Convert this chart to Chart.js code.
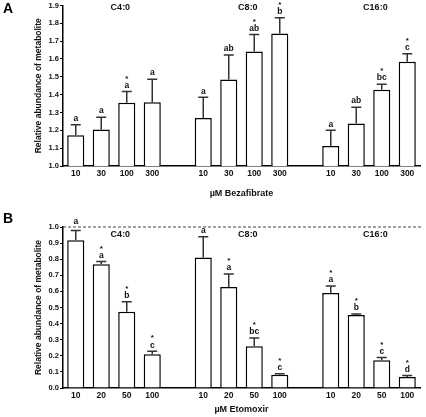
<!DOCTYPE html>
<html>
<head>
<meta charset="utf-8">
<script src="https://cdn.jsdelivr.net/npm/chart.js@4.4.1/dist/chart.umd.min.js"></script>
<style>
  html, body { margin: 0; padding: 0; background: #fff; }
  .panel { position: absolute; left: 0; width: 426px; }
  #wrapA { top: 0; height: 207px; }
  #wrapB { top: 207px; height: 210px; }
</style>
</head>
<body>
<div class="panel" id="wrapA"><canvas id="chartA" width="426" height="207"></canvas></div>
<div class="panel" id="wrapB"><canvas id="chartB" width="426" height="210"></canvas></div>
<script>
// groups and doses (blank slot between groups)
const groups = ['C4:0', 'C8:0', 'C16:0'];
const dosesA = ['10', '30', '100', '300', '', '10', '30', '100', '300', '', '10', '30', '100', '300'];
const dosesB = ['10', '20', '50', '100', '', '10', '20', '50', '100', '', '10', '20', '50', '100'];

// Panel A - Bezafibrate
const meanA = [1.172, 1.205, 1.354, 1.358, null, 1.269, 1.485, 1.642, 1.743, null, 1.112, 1.239, 1.427, 1.584];
const errA  = [1.231, 1.274, 1.418, 1.487, null, 1.386, 1.623, 1.737, 1.832, null, 1.200, 1.330, 1.459, 1.629];
const letA  = ['a', 'a', 'a', 'a', '', 'a', 'ab', 'ab', 'b', '', 'a', 'ab', 'bc', 'c'];
const starA = [0, 0, 1, 0, 0, 0, 0, 1, 1, 0, 0, 0, 1, 1];
const ticksA = [1.0, 1.1, 1.2, 1.3, 1.4, 1.5, 1.6, 1.7, 1.8, 1.9];

// Panel B - Etomoxir
const meanB = [0.917, 0.768, 0.474, 0.209, null, 0.810, 0.627, 0.259, 0.083, null, 0.590, 0.453, 0.172, 0.068];
const errB  = [0.979, 0.785, 0.536, 0.228, null, 0.940, 0.708, 0.311, 0.089, null, 0.634, 0.460, 0.190, 0.077];
const letB  = ['a', 'a', 'b', 'c', '', 'a', 'a', 'bc', 'c', '', 'a', 'b', 'c', 'd'];
const starB = [0, 1, 1, 1, 0, 0, 1, 1, 1, 0, 1, 1, 1, 1];
const ticksB = [0.0, 0.1, 0.2, 0.3, 0.4, 0.5, 0.6, 0.7, 0.8, 0.9, 1.0];

const FONT = 'Liberation Sans, Arial, sans-serif';

// error bars, letters, group names, panel letter, reference line
const extras = {
  id: 'extras',
  afterDatasetsDraw(chart, args, opts) {
    const ctx = chart.ctx;
    const x = chart.scales.x, y = chart.scales.y;
    const meta = chart.getDatasetMeta(0);
    const area = chart.chartArea;
    ctx.save();
    if (opts.refLine != null) {
      const ry = y.getPixelForValue(opts.refLine);
      ctx.strokeStyle = '#444';
      ctx.lineWidth = 1;
      ctx.setLineDash([3, 2]);
      ctx.beginPath();
      ctx.moveTo(area.left, ry);
      ctx.lineTo(area.right + 2, ry);
      ctx.stroke();
      ctx.setLineDash([]);
    }
    ctx.strokeStyle = '#333';
    ctx.lineWidth = 1.5;
    ctx.fillStyle = '#111';
    ctx.textAlign = 'center';
    ctx.textBaseline = 'middle';
    meta.data.forEach((bar, i) => {
      const m = opts.mean[i];
      if (m == null) return;
      const bx = bar.x;
      const yt = y.getPixelForValue(m);
      const ye = y.getPixelForValue(opts.err[i]);
      ctx.beginPath();
      ctx.moveTo(bx, yt);
      ctx.lineTo(bx, ye);
      ctx.moveTo(bx - 5, ye);
      ctx.lineTo(bx + 5, ye);
      ctx.stroke();
      let ly = ye - (opts.gap[i] || 6);
      ctx.font = 'bold 8.5px ' + FONT;
      ctx.fillText(opts.letters[i], bx, ly);
      if (opts.stars[i]) {
        ctx.font = 'bold 8px ' + FONT;
        ctx.fillText('*', bx, ly - 7);
      }
    });
    ctx.font = 'bold 9px ' + FONT;
    groups.forEach((g, k) => {
      ctx.fillText(g, x.getPixelForValue(k * 5 + 1.75), opts.groupY);
    });
    ctx.font = 'bold 14px ' + FONT;
    ctx.textAlign = 'left';
    ctx.fillStyle = '#000';
    ctx.fillText(opts.panel, 3, opts.panelY);
    ctx.restore();
  }
};

function makeChart(id, labels, mean, err, letters, stars, ticks, min, max, xTitle, opts) {
  const ctx = document.getElementById(id).getContext('2d');
  return new Chart(ctx, {
    type: 'bar',
    data: {
      labels: labels,
      datasets: [{
        data: mean,
        backgroundColor: '#fff',
        borderColor: '#000',
        borderWidth: 1.5,
        barPercentage: 0.67,
        categoryPercentage: 1.0
      }]
    },
    options: {
      responsive: false,
      animation: false,
      layout: { padding: { top: opts.padTop, right: 6, left: 0, bottom: 0 } },
      plugins: {
        legend: { display: false },
        tooltip: { enabled: false },
        extras: Object.assign({ mean: mean, err: err, letters: letters, stars: stars }, opts.extras)
      },
      scales: {
        x: {
          grid: { display: false, drawTicks: false },
          border: { display: true, color: '#000', width: 1.5 },
          ticks: { color: '#111', font: { family: FONT, size: 8.5, weight: 'bold' }, padding: 3, maxRotation: 0, autoSkip: false },
          title: { display: true, text: xTitle, color: '#111', font: { family: FONT, size: 9, weight: 'bold' }, padding: { top: 0, bottom: opts.xTitlePad } },
          afterFit(s) { s.height = opts.xHeight; }
        },
        y: {
          min: min,
          max: max,
          afterBuildTicks(s) { s.ticks = ticks.map(v => ({ value: v })); },
          grid: { drawOnChartArea: false, drawTicks: true, tickLength: 3, color: '#000', lineWidth: 1 },
          border: { display: true, color: '#000', width: 1.5 },
          ticks: { color: '#111', font: { family: FONT, size: 7.5, weight: 'bold' }, padding: 1, callback: v => v.toFixed(1) },
          title: { display: true, text: 'Relative abundance of metabolite', color: '#111', font: { family: FONT, size: 8.5, weight: 'bold' }, padding: { top: 34, bottom: 0 } },
          afterFit(s) { s.width = 63; }
        }
      }
    },
    plugins: [extras]
  });
}

makeChart('chartA', dosesA, meanA, errA, letA, starA, ticksA, 1.0, 1.9, 'µM Bezafibrate', {
  padTop: 5, xHeight: 41, xTitlePad: 8,
  extras: { groupY: 8, panel: 'A', panelY: 9, gap: [] }
});

makeChart('chartB', dosesB, meanB, errB, letB, starB, ticksB, 0.0, 1.0, 'µM Etomoxir', {
  padTop: 20, xHeight: 29, xTitlePad: 2,
  extras: { groupY: 28, panel: 'B', panelY: 12, refLine: 1.0, gap: [9] }
});
</script>
</body>
</html>
